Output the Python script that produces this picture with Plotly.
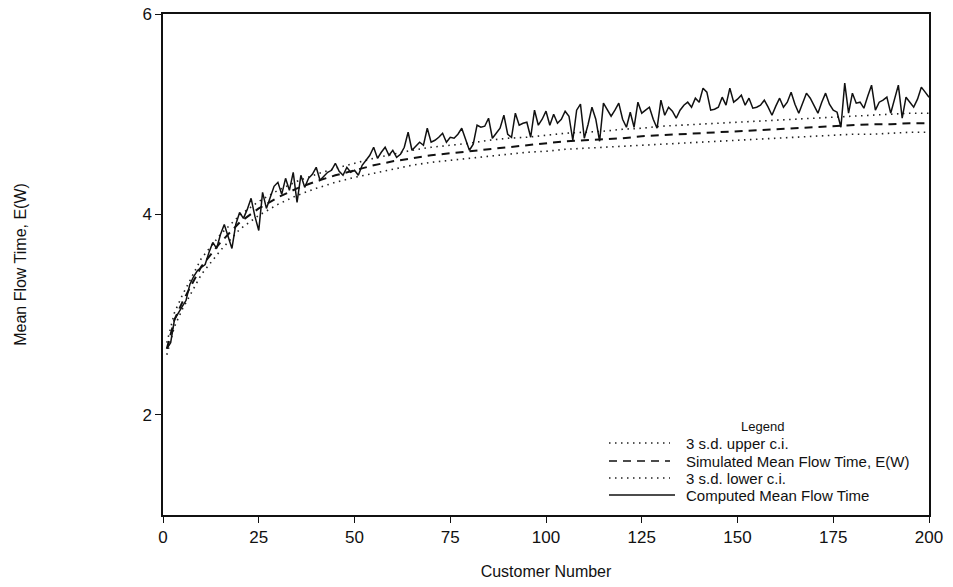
import plotly.graph_objects as go

# ---------------- data ----------------
customer = list(range(1, 201))
computed = [
    2.66, 2.72, 2.95, 3.02, 3.08, 3.14, 3.30, 3.38, 3.44, 3.47,
    3.50, 3.62, 3.72, 3.66, 3.80, 3.90, 3.78, 3.66, 3.90, 4.02,
    3.96, 4.05, 4.16, 3.98, 3.84, 4.22, 4.06, 4.18, 4.28, 4.32,
    4.20, 4.36, 4.24, 4.42, 4.12, 4.39, 4.27, 4.36, 4.40, 4.47,
    4.34, 4.38, 4.42, 4.44, 4.51, 4.43, 4.39, 4.47, 4.42, 4.44,
    4.39, 4.49, 4.54, 4.59, 4.67, 4.56, 4.62, 4.67, 4.59, 4.64,
    4.57, 4.60, 4.67, 4.82, 4.64, 4.68, 4.72, 4.69, 4.86, 4.72,
    4.74, 4.77, 4.81, 4.72, 4.77, 4.76, 4.80, 4.86, 4.75, 4.64,
    4.70, 4.89, 4.87, 4.88, 4.96, 4.76, 4.81, 4.86, 4.99, 4.80,
    4.77, 5.01, 4.89, 4.91, 4.92, 4.77, 5.04, 4.89, 4.95, 5.03,
    4.89, 5.00, 4.91, 4.95, 5.03, 4.98, 4.74, 5.04, 5.10, 4.76,
    4.90, 5.07, 4.95, 4.73, 5.11, 5.04, 4.98, 5.04, 5.11, 4.95,
    4.87, 5.02, 4.87, 5.12, 5.01, 5.04, 5.07, 4.95, 4.86, 5.14,
    4.99, 5.07, 5.03, 4.96, 5.04, 5.09, 5.12, 5.07, 5.16, 5.12,
    5.26, 5.22, 5.04, 5.05, 5.07, 5.17, 5.09, 5.26, 5.12, 5.15,
    5.19, 5.09, 5.16, 5.06, 5.07, 5.09, 5.14, 5.07, 4.99, 5.08,
    5.16, 5.07, 5.12, 5.22, 5.10, 5.01, 5.12, 5.21, 5.16, 5.08,
    5.01, 5.12, 5.21, 5.10, 5.04, 5.02, 4.87, 5.31, 5.01, 5.21,
    5.11, 5.12, 5.06, 5.18, 5.29, 5.04, 5.12, 5.14, 5.17, 5.01,
    5.15, 5.29, 4.96, 5.17, 5.12, 5.07, 5.15, 5.27, 5.22, 5.17,
]

sim_x = [1, 3, 5, 10, 15, 20, 25, 30, 35, 40, 45, 50, 55, 60, 65, 70, 75, 80,
         85, 90, 95, 100, 105, 110, 115, 120, 125, 130, 135, 140, 145, 150,
         155, 160, 165, 170, 175, 180, 185, 190, 195, 200]
simulated = [2.66, 2.95, 3.12, 3.48, 3.72, 3.92, 4.06, 4.17, 4.26, 4.33, 4.39,
             4.44, 4.49, 4.53, 4.56, 4.59, 4.61, 4.63, 4.65, 4.67, 4.69, 4.71,
             4.73, 4.74, 4.75, 4.76, 4.78, 4.79, 4.80, 4.81, 4.82, 4.83, 4.84,
             4.85, 4.86, 4.87, 4.88, 4.89, 4.90, 4.90, 4.91, 4.91]
upper_ci = [2.72, 3.02, 3.19, 3.56, 3.80, 3.99, 4.13, 4.24, 4.33, 4.40, 4.46,
            4.51, 4.56, 4.60, 4.64, 4.67, 4.69, 4.71, 4.74, 4.76, 4.77, 4.79,
            4.81, 4.82, 4.83, 4.85, 4.86, 4.88, 4.89, 4.90, 4.91, 4.92, 4.93,
            4.94, 4.95, 4.96, 4.97, 4.98, 4.99, 5.00, 5.01, 5.01]
lower_ci = [2.60, 2.88, 3.05, 3.40, 3.64, 3.85, 3.99, 4.10, 4.19, 4.26, 4.32,
            4.37, 4.41, 4.45, 4.49, 4.52, 4.54, 4.56, 4.58, 4.60, 4.62, 4.63,
            4.65, 4.66, 4.67, 4.68, 4.69, 4.70, 4.71, 4.72, 4.73, 4.74, 4.75,
            4.76, 4.77, 4.78, 4.79, 4.80, 4.80, 4.81, 4.82, 4.82]

x_ticks = [0, 25, 50, 75, 100, 125, 150, 175, 200]
y_ticks = [2, 4, 6]

series_names = ["3 s.d. upper c.i.", "Simulated Mean Flow Time, E(W)",
                "3 s.d. lower c.i.", "Computed Mean Flow Time"]

# ---------------- styles ----------------
FONT = "Liberation Sans, Arial, Helvetica, sans-serif"
INK = "#111"
DOT = dict(color="#222", width=1.6, dash="1.5px,4.5px")
DASH = dict(color=INK, width=2, dash="8px,6px")
SOLID = dict(color=INK, width=1.5)
styles = [DOT, DASH, DOT, SOLID]

fig = go.Figure()
for name, xs, ys, st in zip(series_names,
                            [sim_x, sim_x, sim_x, customer],
                            [upper_ci, simulated, lower_ci, computed],
                            styles):
    fig.add_trace(go.Scatter(x=xs, y=ys, mode="lines", name=name,
                             line=st, showlegend=False))

# ---------------- hand-placed legend (inside plot, bottom right) ----------------
L, R, T, B = 163, 929, 14, 515  # plot-area pixel box
def px(xp):
    return (xp - L) / (R - L)
def py(yp):
    return (B - yp) / (B - T)

annotations = [dict(text="Legend", x=px(762), y=py(426), xref="paper",
                    yref="paper", showarrow=False, xanchor="center",
                    yanchor="middle", borderpad=0, font=dict(size=13, color=INK))]
shapes = []
item_y = [443, 461, 478, 495]
sample_end = [670, 670, 670, 675]
for name, st, yy, xe in zip(series_names, styles, item_y, sample_end):
    annotations.append(dict(text=name, x=px(685), y=py(yy), xref="paper",
                            yref="paper", showarrow=False, xanchor="left",
                            yanchor="middle", borderpad=0,
                            font=dict(size=15, color=INK)))
    shapes.append(dict(type="line", xref="paper", yref="paper",
                       x0=px(609), x1=px(xe), y0=py(yy), y1=py(yy),
                       line=dict(color=st["color"], width=min(st["width"], 1.5),
                                 dash=st.get("dash", "solid"))))

fig.update_layout(
    width=953, height=587,
    margin=dict(l=L, r=953 - R, t=T, b=587 - B, autoexpand=False),
    paper_bgcolor="white", plot_bgcolor="white",
    font=dict(family=FONT, color=INK, size=16),
    showlegend=False,
    annotations=annotations, shapes=shapes,
)
fig.update_xaxes(
    range=[0, 200], tickvals=x_ticks, ticktext=[str(v) for v in x_ticks],
    showgrid=False, zeroline=False, showline=True, linecolor=INK,
    linewidth=1.5, mirror=True, ticks="outside", ticklen=6, tickwidth=1.2,
    tickcolor=INK, tickfont=dict(size=17), automargin=False,
    title=dict(text="Customer Number", font=dict(size=16), standoff=20),
)
fig.update_yaxes(
    range=[1, 6], tickvals=y_ticks, ticktext=[str(v) for v in y_ticks],
    showgrid=False, zeroline=False, showline=True, linecolor=INK,
    linewidth=1.5, mirror=True, ticks="outside", ticklen=6, tickwidth=1.2,
    tickcolor=INK, tickfont=dict(size=17), automargin=False,
    title=dict(text="Mean Flow Time, E(W)", font=dict(size=16), standoff=112),
)

fig.write_html("out.html")
